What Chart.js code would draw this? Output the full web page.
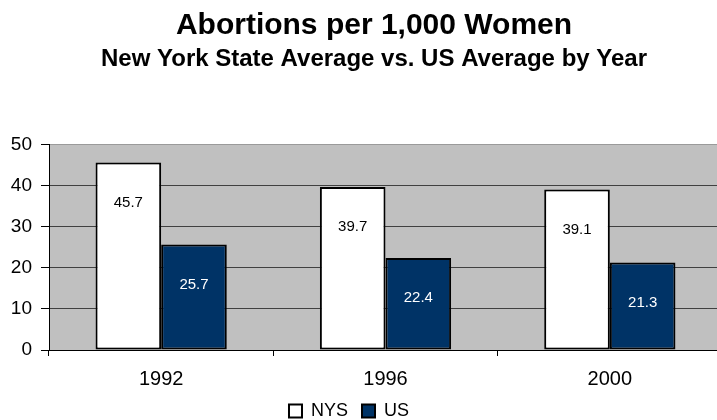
<!DOCTYPE html>
<html>
<head>
<meta charset="utf-8">
<script src="https://cdn.jsdelivr.net/npm/chart.js@4"></script>
<style>
  body { margin: 0; background: #fff; overflow: hidden; }
</style>
</head>
<body>
<canvas id="myChart" width="748" height="420"></canvas>
<script>
const years = ['1992', '1996', '2000'];
const nysRates = [45.7, 39.7, 39.1];
const usRates = [25.7, 22.4, 21.3];
const yTicks = [0, 10, 20, 30, 40, 50];

const fontFamily = "'Liberation Sans', Arial, sans-serif";

// grey plot area, like the old spreadsheet chart
const plotBackground = {
  id: 'plotBackground',
  beforeDraw(chart) {
    const { ctx, chartArea: a } = chart;
    ctx.save();
    ctx.fillStyle = '#c0c0c0';
    ctx.fillRect(a.left, a.top, a.right - a.left, a.bottom - a.top);
    ctx.restore();
  },
  afterLayout(chart) {
    // squeezed axes still need room for their labels
    chart.scales.y.left = 0;
    chart.scales.x.bottom += 20;
    // legend sits a little left of centre in the original
    const lg = chart.legend;
    lg.left -= 25;
    lg.right -= 25;
    lg.top += 10;
    lg.bottom += 10;
  }
};

// value labels sit a bit below the top of each bar
const barLabels = {
  id: 'barLabels',
  afterDatasetsDraw(chart) {
    const ctx = chart.ctx;
    ctx.save();
    ctx.font = '15px ' + fontFamily;
    ctx.textAlign = 'center';
    ctx.textBaseline = 'middle';
    chart.data.datasets.forEach((ds, i) => {
      chart.getDatasetMeta(i).data.forEach((bar, j) => {
        ctx.fillStyle = i === 0 ? '#000' : '#fff';
        ctx.fillText(ds.data[j].toFixed(1), bar.x, bar.y + 40);
      });
    });
    ctx.restore();
  }
};

const data = {
  labels: years,
  datasets: [{
    label: 'NYS',
    data: nysRates,
    backgroundColor: '#ffffff',
    borderColor: '#000000',
    borderWidth: 2,
    borderSkipped: false
  }, {
    label: 'US',
    data: usRates,
    backgroundColor: '#003366',
    borderColor: '#000000',
    borderWidth: 2,
    borderSkipped: false
  }]
};

const options = {
  responsive: false,
  animation: false,
  layout: { padding: { left: 26, right: 26, top: 0, bottom: 0 } },
  datasets: {
    bar: { barPercentage: 1.0, categoryPercentage: 0.585 }
  },
  plugins: {
    title: {
      display: true,
      text: 'Abortions per 1,000 Women',
      color: '#000',
      font: { family: fontFamily, size: 30, weight: 'bold' },
      padding: { top: 8, bottom: 1 }
    },
    subtitle: {
      display: true,
      text: 'New York State Average vs. US Average by Year',
      color: '#000',
      font: { family: fontFamily, size: 24, weight: 'bold' },
      padding: { top: 0, bottom: 71 }
    },
    legend: {
      position: 'bottom',
      labels: {
        color: '#000',
        font: { family: fontFamily, size: 18 },
        boxWidth: 13,
        boxHeight: 13,
        padding: 14
      }
    },
    tooltip: { enabled: false }
  },
  scales: {
    x: {
      grid: {
        offset: true,
        drawOnChartArea: false,
        drawTicks: true,
        tickLength: 6,
        tickColor: '#000'
      },
      border: { display: true, color: '#000', width: 1 },
      ticks: {
        color: '#000',
        font: { family: fontFamily, size: 20 },
        padding: 11
      },
      afterFit: (axis) => { axis.height = 28; }
    },
    y: {
      min: 0,
      max: 50,
      afterBuildTicks: (axis) => {
        axis.ticks = yTicks.map(v => ({ value: v }));
      },
      afterFit: (axis) => { axis.width = 23; },
      grid: {
        color: (c) => c.tick && c.tick.value === 50 ? '#9a9a9a' : '#404040',
        tickColor: '#000',
        tickLength: 8
      },
      border: { display: true, color: '#000', width: 1 },
      ticks: {
        color: '#000',
        font: { family: fontFamily, size: 19 },
        padding: 9
      }
    }
  }
};

new Chart(document.getElementById('myChart').getContext('2d'), {
  type: 'bar',
  data: data,
  options: options,
  plugins: [plotBackground, barLabels]
});
</script>
</body>
</html>
